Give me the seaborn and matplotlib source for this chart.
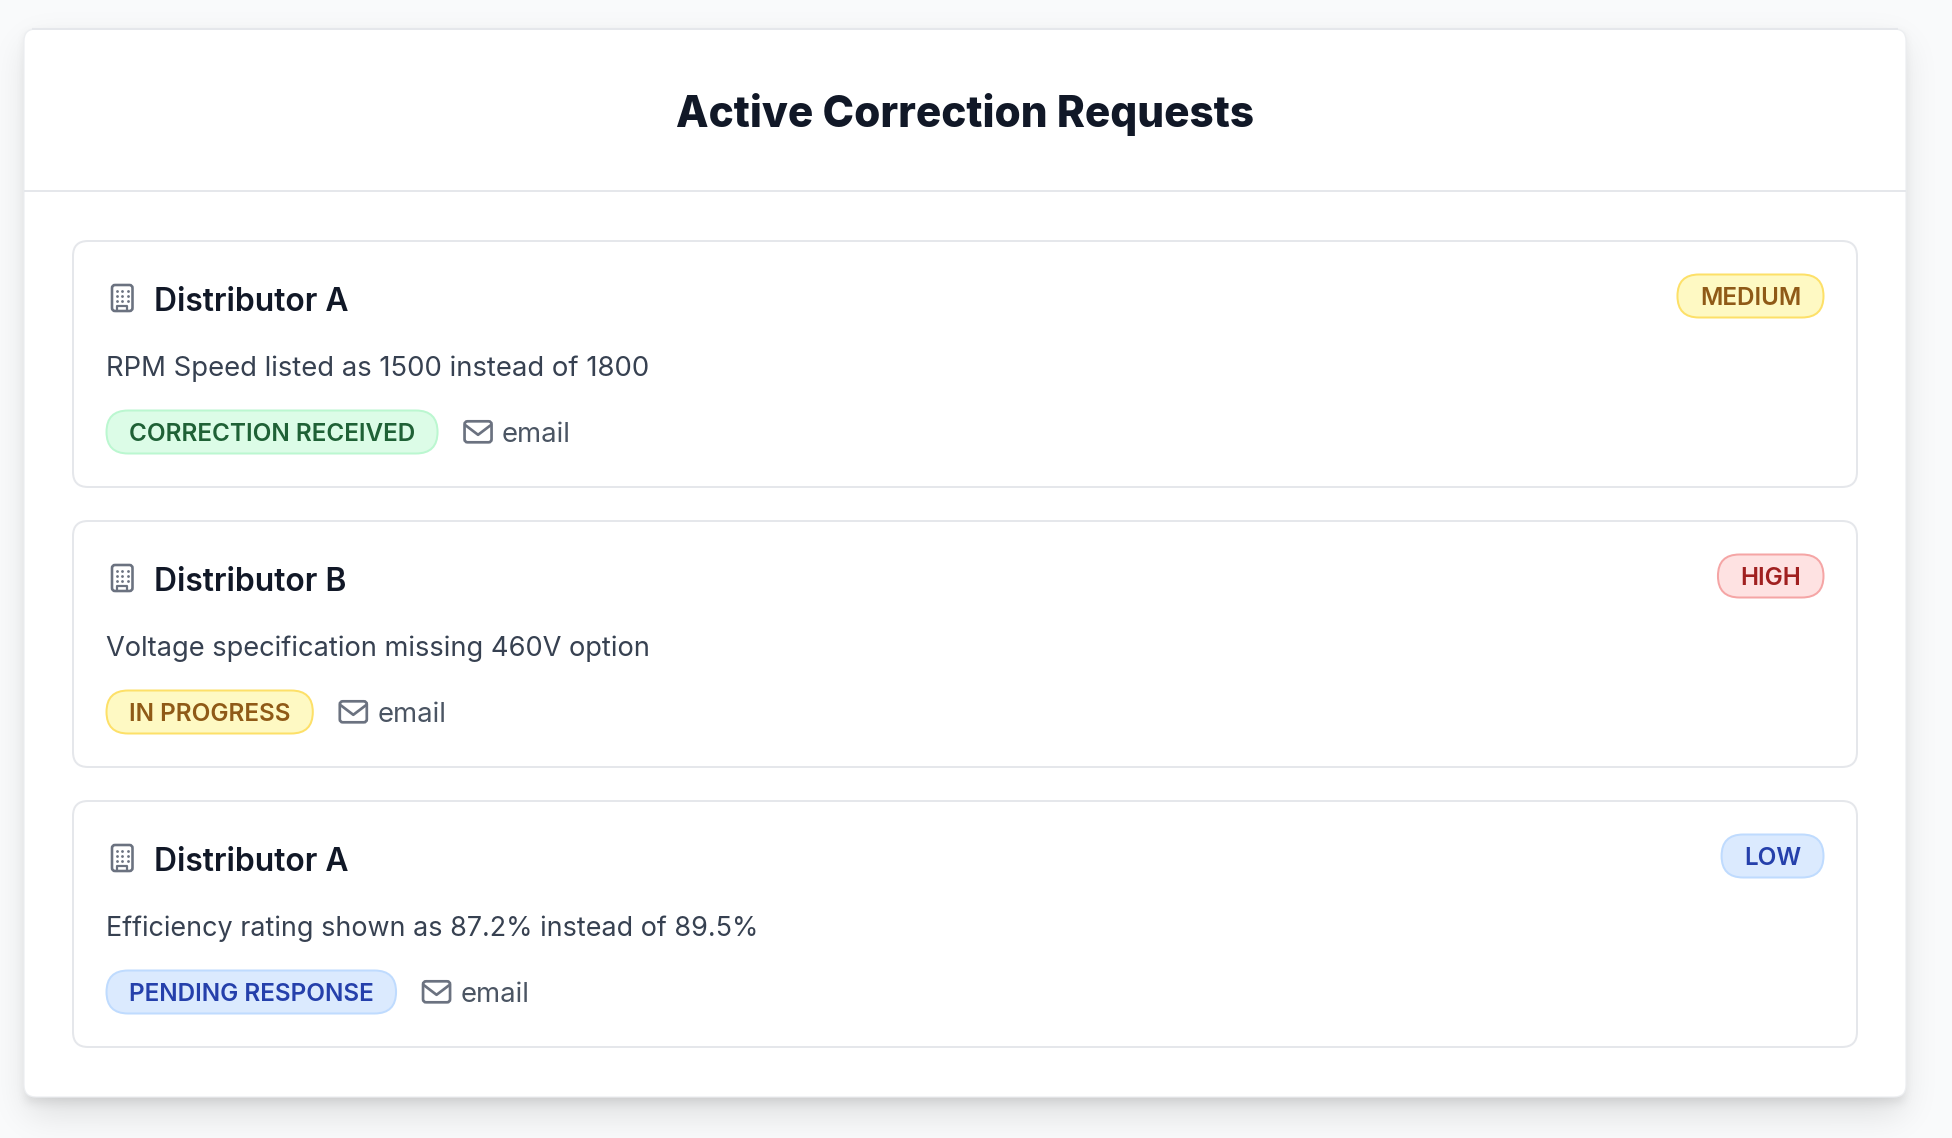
import math
import numpy as np
import pandas as pd
import matplotlib
matplotlib.use("Agg")
import matplotlib.pyplot as plt
from matplotlib.patches import FancyBboxPatch, Rectangle
import seaborn as sns

# ---- content ----
title = "Active Correction Requests"
distributors = ["Distributor A", "Distributor B", "Distributor A"]
issues = ["RPM Speed listed as 1500 instead of 1800",
          "Voltage specification missing 460V option",
          "Efficiency rating shown as 87.2% instead of 89.5%"]
priorities = ["MEDIUM", "HIGH", "LOW"]
statuses = ["CORRECTION RECEIVED", "IN PROGRESS", "PENDING RESPONSE"]
channels = ["email", "email", "email"]

# ---- styles ----
W, H = 1952, 1138
PAGE = "#f9fafb"; BORDER = "#e5e7eb"
INK = "#111827"; BODY = "#374151"; MUTED = "#4b5563"; ICON = "#6b7280"
TONES = {
    "yellow": ("#fef9c3", "#fde068", "#8f5a17"),
    "red": ("#fee2e2", "#f5a5a5", "#a02020"),
    "blue": ("#dbeafe", "#bfdbfe", "#2540ab"),
    "green": ("#dcfce7", "#bbf7d0", "#1f6136"),
}
priority_tone = {"MEDIUM": "yellow", "HIGH": "red", "LOW": "blue"}
status_tone = {"CORRECTION RECEIVED": "green", "IN PROGRESS": "yellow", "PENDING RESPONSE": "blue"}
issue_widths = [544, 544, 651]
PX = 0.72

sns.set_theme(style="white", rc={"figure.facecolor": PAGE, "axes.facecolor": PAGE})
plt.rcParams["font.family"] = ["Inter", "DejaVu Sans"]

fig = plt.figure(figsize=(W / 100, H / 100), dpi=100)
ax = fig.add_axes([0, 0, 1, 1])
ax.set_xlim(0, W); ax.set_ylim(H, 0); ax.axis("off")

# ---- helpers ----
def rrect(x0, y0, x1, y1, r, fc, ec, lw=2.0, z=2):
    p = FancyBboxPatch((x0 + r, y0 + r), x1 - x0 - 2 * r, y1 - y0 - 2 * r,
                       boxstyle=f"round,pad={r},rounding_size={r}",
                       fc=fc, ec=ec, lw=lw * PX, zorder=z, mutation_aspect=1)
    ax.add_patch(p)
    return p

def text_w(t):
    return t.get_window_extent(fig.canvas.get_renderer()).width

def fit_text(x, y, s, px, color, weight, target=None, ha="left", z=5):
    t = ax.text(x, y, s, fontsize=px * PX, color=color, weight=weight,
                ha=ha, va="center_baseline", zorder=z)
    if target:
        t.set_fontsize(px * PX * target / text_w(t))
    return t

erf = np.vectorize(math.erf)
def shadow(x0, y0, x1, y1, sigma, alpha):
    xs = np.arange(W) + .5; ys = np.arange(H) + .5
    bx = .5 * (erf((xs - x0) / (sigma * 2**.5)) - erf((xs - x1) / (sigma * 2**.5)))
    by = .5 * (erf((ys - y0) / (sigma * 2**.5)) - erf((ys - y1) / (sigma * 2**.5)))
    a = alpha * np.outer(by, bx)
    img = np.zeros((H, W, 4)); img[..., 3] = a
    ax.imshow(img, extent=(0, W, H, 0), zorder=1, interpolation="nearest", aspect="auto")

def building(x0, y0):
    rrect(x0, y0, x0 + 20.5, y0 + 26, 3, "none", ICON, 2.6, 6)
    ax.plot([x0 + 5.3, x0 + 5.3, x0 + 15.3, x0 + 15.3], [y0 + 26, y0 + 20.5, y0 + 20.5, y0 + 26],
            color=ICON, lw=2.2 * PX, zorder=6)
    dots = pd.DataFrame([(x0 + dx, y0 + dy) for dx in (4.5, 10.2, 16) for dy in (5.5, 10.5, 15.5)],
                        columns=["x", "y"])
    sns.scatterplot(data=dots, x="x", y="y", ax=ax, color=ICON, s=4, linewidth=0, zorder=6, legend=False)

def envelope(x0, y0):
    rrect(x0, y0, x0 + 27, y0 + 21, 3, "none", ICON, 2.7, 6)
    ax.plot([x0 + 1, x0 + 13.5, x0 + 26], [y0 + 4, y0 + 13.5, y0 + 4], color=ICON, lw=2.7 * PX,
            zorder=6, solid_joinstyle="round")

def pill(x0, yc, s, tone, px=24.3, pad=22.4, right=None):
    bg, bd, fg = TONES[tone]
    t = fit_text(0, yc, s, px, fg, 600, ha="left")
    w = text_w(t)
    if right is not None:
        x0 = right - w - 2 * pad
    t.set_x(x0 + pad)
    rrect(x0, yc - 21.5, x0 + w + 2 * pad, yc + 21.5, 21.5, bg, bd, 2, 4)
    return x0 + w + 2 * pad

# ---- page ----
CARD = (24, 29, 1906, 1097)
shadow(CARD[0] + 4, CARD[1] + 16, CARD[2] - 4, CARD[3] + 16, 18, .12)
shadow(CARD[0] + 2, CARD[1] + 5, CARD[2] - 2, CARD[3] + 5, 5, .09)
rrect(*CARD, 12, "white", "#eceef1", 1.2, 2)
ax.add_patch(Rectangle((CARD[0] + 8, CARD[1] - 1), CARD[2] - CARD[0] - 16, 2, fc=BORDER, ec="none", zorder=3))
ax.add_patch(Rectangle((CARD[0], 190), CARD[2] - CARD[0], 2, fc=BORDER, ec="none", zorder=3))
fit_text(965.5, 110, title, 46, INK, 800, target=579, ha="center")

tops = [241, 521, 801]
for i, top in enumerate(tops):
    rrect(73, top, 1857, top + 246, 15, "white", BORDER, 2, 3)
    building(112, top + 44)
    fit_text(154.5, top + 58, distributors[i], 31.8, INK, 600)
    fit_text(106, top + 125, issues[i], 27, BODY, 400, target=issue_widths[i])
    pill(None, top + 55, priorities[i], priority_tone[priorities[i]], right=1823.5)
    end = pill(106.5, top + 191, statuses[i], status_tone[statuses[i]])
    envelope(end + 27, top + 180.3)
    fit_text(end + 64.5, top + 191, channels[i], 27.5, MUTED, 400)

fig.savefig("out.png", dpi=100, facecolor=PAGE)
